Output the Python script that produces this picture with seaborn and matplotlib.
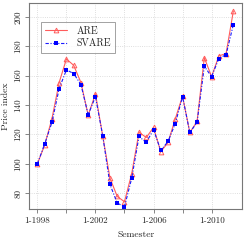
import matplotlib
matplotlib.use("Agg")
from matplotlib import pyplot as plt
import pandas as pd
import seaborn as sns

# semesters 1-1998 ... 2-2011
years = [1998, 1999, 2000, 2001, 2002, 2003, 2004, 2005, 2006, 2007, 2008, 2009, 2010, 2011]
semesters = [f"{s}-{y}" for y in years for s in (1, 2)]
x_pos = [y + (s - 1) * 0.5 for y in years for s in (1, 2)]

are = [100, 112.7, 130.6, 155.3, 171.3, 167.0, 155.3, 133.1, 147.6, 119.0,
       90.3, 77.8, 74.2, 93.4, 121.5, 117.9, 124.7, 108.2, 114.5, 130.6,
       146.0, 121.3, 128.8, 172.2, 159.3, 173.4, 175.0, 203.9]
svare = [100, 113.4, 128.1, 151.2, 163.9, 161.4, 153.9, 133.3, 145.7, 119.2,
         86.0, 73.3, 70.8, 90.3, 118.6, 114.5, 123.3, 109.1, 115.2, 127.4,
         145.7, 121.3, 128.1, 166.3, 159.3, 171.6, 174.3, 194.7]

tick_years = [1998, 2000, 2002, 2004, 2006, 2008, 2010]
tick_labels = ["1-1998", "", "1-2002", "", "1-2006", "", "1-2010"]
y_ticks = [80, 100, 120, 140, 160, 180, 200]

df = pd.DataFrame({"t": x_pos, "semester": semesters, "ARE": are, "SVARE": svare})

sns.set_style("ticks")
plt.rcParams["font.family"] = ["cmr10", "DejaVu Serif"]
plt.rcParams["axes.formatter.use_mathtext"] = True

f, ax = plt.subplots(figsize=(2.45, 2.45), dpi=100)
f.subplots_adjust(left=0.12, right=0.988, top=0.986, bottom=0.146)

sns.lineplot(data=df, x="t", y="ARE", ax=ax, color="#ff5c5c", lw=0.8,
             marker="^", markersize=3.4, markerfacecolor="none",
             markeredgecolor="#ff5c5c", markeredgewidth=0.7, label="ARE")
sns.lineplot(data=df, x="t", y="SVARE", ax=ax, color="#1a1aff", lw=0.8,
             linestyle=(0, (3, 1.5, 1, 1.5)), marker="s", markersize=2.3,
             markeredgewidth=0, markerfacecolor="#0000ff", label="SVARE")

ax.set_xlim(1997.45, 2012.1)
ax.set_ylim(69.1, 209.1)
ax.set_xticks(tick_years)
ax.set_xticklabels(tick_labels, fontsize=6.5)
ax.set_yticks(y_ticks)
ax.set_yticklabels([str(v) for v in y_ticks], fontsize=6.5, rotation=90, va="center")
ax.tick_params(length=3, width=0.5, color="#555555", pad=2)
ax.grid(True, linestyle=":", color="#d4d4d4", lw=0.6)
for s in ax.spines.values():
    s.set_color("#777777")
    s.set_linewidth(0.8)
ax.set_xlabel("Semester", fontsize=7, labelpad=4)
ax.set_ylabel("Price index", fontsize=7, labelpad=3)

leg = ax.legend(loc="upper left", bbox_to_anchor=(0.03, 0.935), fontsize=7.2,
                frameon=True, fancybox=False, edgecolor="#777777",
                handlelength=2.2, handletextpad=0.9, borderpad=0.45, labelspacing=0.3)
leg.get_frame().set_linewidth(0.6)

plt.savefig("out.png", dpi=100)
